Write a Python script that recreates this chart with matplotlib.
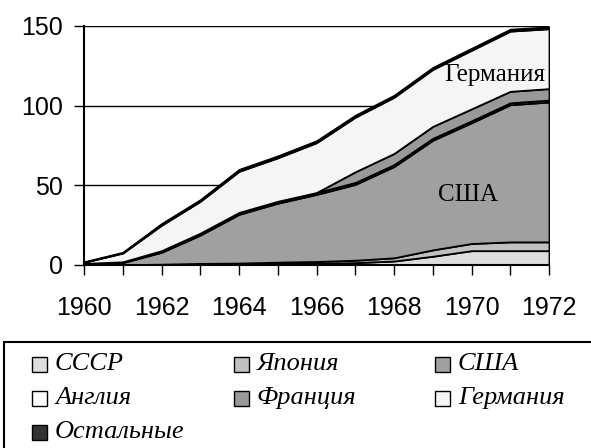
import matplotlib
matplotlib.use("Agg")
import matplotlib.pyplot as plt
from matplotlib.patches import Rectangle

years = list(range(1960, 1973))

# stacked layers, bottom to top
ussr = [0, 0, 0.2, 0.4, 0.5, 0.8, 1.0, 1.5, 2.5, 5.5, 9.0, 9.0, 9.0]
japan = [0, 0.2, 0.3, 0.6, 0.7, 1.0, 1.2, 1.5, 2.0, 4.0, 4.5, 5.5, 5.5]
usa = [0.7, 1.3, 7.5, 17.8, 30.6, 37.0, 42.1, 47.6, 57.3, 68.8, 75.8, 86.1, 87.8]
england = [0.3, 0.5, 1.0, 1.2, 1.2, 1.2, 1.2, 1.2, 1.2, 1.2, 1.2, 1.2, 1.2]
france = [0, 0, 0, 0, 0, 0, 0, 6.7, 7.0, 7.5, 7.5, 7.2, 7.2]
germany = [0.7, 5.5, 16.0, 20.0, 25.8, 27.3, 31.3, 34.3, 35.3, 35.8, 36.8, 37.8, 37.6]
others = [0.3, 0.5, 1.0, 1.0, 1.2, 1.2, 1.2, 1.2, 1.2, 1.2, 1.2, 1.2, 1.2]

labels = ["СССР", "Япония", "США", "Англия", "Франция", "Германия", "Остальные"]
colors = ["#dddddd", "#c0c0c0", "#a0a0a0", "#ffffff", "#999999", "#f5f5f5", "#333333"]

W, H = 591, 448
fig = plt.figure(figsize=(W / 100, H / 100), dpi=100)
ax = fig.add_axes([84 / W, 1 - 265 / H, (549 - 84) / W, (265 - 26) / H])

ax.stackplot(years, ussr, japan, usa, england, france, germany, others,
             colors=colors, edgecolor="black", linewidth=1.3, zorder=3)

ax.set_xlim(1960, 1972)
ax.set_ylim(0, 150)
ax.set_yticks([0, 50, 100, 150])
ax.set_xticks(years, minor=True)
ax.set_xticks(range(1960, 1973, 2))
ax.grid(axis="y", color="black", linewidth=1.0, zorder=1)
ax.tick_params(axis="both", direction="out", length=7, width=1, labelsize=18, colors="black")
ax.tick_params(axis="x", which="minor", direction="out", length=7, width=1)
ax.tick_params(axis="x", pad=15)
ax.tick_params(axis="y", pad=8)
for lab in ax.get_xticklabels() + ax.get_yticklabels():
    lab.set_fontfamily("Liberation Sans")
for s in ["top", "right"]:
    ax.spines[s].set_visible(False)
for s in ["left", "bottom"]:
    ax.spines[s].set_linewidth(1.5)
    ax.spines[s].set_zorder(5)

ax.text(1970.6, 119, "Германия", fontfamily="Liberation Serif", fontsize=18,
        ha="center", va="center", zorder=6)
ax.text(1969.9, 44, "США", fontfamily="Liberation Serif", fontsize=18,
        ha="center", va="center", zorder=6)

# legend box, clipped by the figure edges
fig.patches.append(Rectangle((4 / W, -0.05), 1.0, 1 - 342 / H + 0.05,
                             transform=fig.transFigure, fill=False,
                             edgecolor="black", linewidth=1.5))
for i, (lab, col) in enumerate(zip(labels, colors)):
    r, c = divmod(i, 3)
    x = 32 + c * 201.5
    y = 364 + r * 34
    fig.patches.append(Rectangle((x / W, 1 - (y + 7.5) / H), 15 / W, 15 / H,
                                 transform=fig.transFigure, facecolor=col,
                                 edgecolor="black", linewidth=1))
    fig.text((x + 23) / W, 1 - y / H, lab, fontfamily="Liberation Serif",
             style="italic", fontsize=19, va="center", ha="left")

fig.savefig("out.png", dpi=100)
